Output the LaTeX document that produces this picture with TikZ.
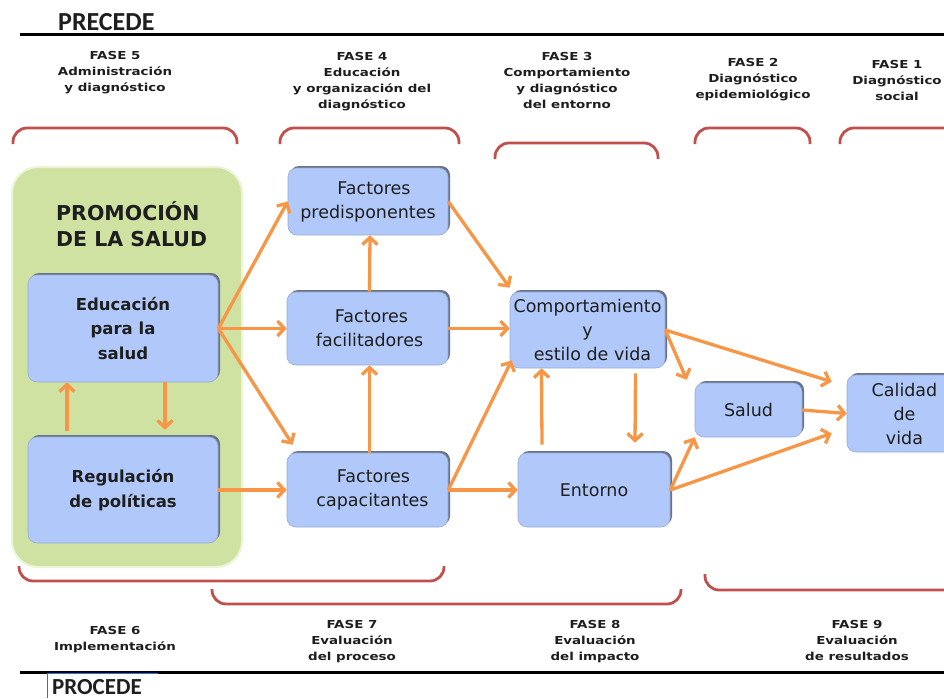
\documentclass[tikz,border=0pt]{standalone}
\usepackage{fontspec}
\setmainfont{DejaVu Sans}
\newfontfamily\titlefont{Carlito}
\newfontfamily\phasefont[FakeStretch=1.22]{DejaVu Sans}
\usetikzlibrary{arrows.meta,shadows,calc}
\definecolor{orangeA}{RGB}{247,150,70}
\definecolor{boxblue}{RGB}{177,201,250}
\definecolor{boxedge}{RGB}{105,115,135}
\definecolor{greenbg}{RGB}{207,226,162}
\definecolor{greenedge}{RGB}{236,244,216}
\definecolor{bracketred}{RGB}{192,80,77}
\definecolor{txt}{RGB}{30,30,30}
\definecolor{cursorblue}{RGB}{30,120,220}
\begin{document}
\begin{tikzpicture}[x=1pt,y=-1pt,
  box/.style={rectangle, rounded corners=9pt, fill=boxblue, draw=boxblue!85!black,
    line width=0.6pt, general shadow={fill=boxedge, shadow xshift=2pt, shadow yshift=2pt},
    inner sep=0pt, align=center, text=txt, font=\fontsize{17.5}{24}\selectfont},
  boldbox/.style={box, font=\bfseries\fontsize{16.5}{24.5}\selectfont},
  arr/.style={draw=orangeA, line width=3.3pt,
    -{Straight Barb[length=7pt,width=15pt]}},
  bracket/.style={draw=bracketred, line width=2.8pt, rounded corners=14pt},
  phase/.style={align=center, text=txt, inner sep=0pt,
    font=\phasefont\bfseries\fontsize{11}{16}\selectfont},
  title/.style={inner sep=0pt, text=txt, font=\titlefont\bfseries\fontsize{26}{26}\selectfont}
]
\useasboundingbox (0,0) rectangle (944,698);
\clip (0,0) rectangle (944,698);

% header / footer lines
\draw[line width=3pt] (20,35) -- (944,35);
\draw[line width=3pt] (20,672) -- (944,672);
\draw[cursorblue, line width=0.8pt] (47,673.5) -- (158,673.5);
\draw[cursorblue, line width=0.8pt] (47,673.5) -- (47,698);
\node[title, anchor=base west] (precede) at (58,31) {PRECEDE};
\node[title, anchor=base west, font=\titlefont\bfseries\fontsize{23}{23}\selectfont] (procede) at (52,694) {PROCEDE};

% phase labels top
\node[phase] (f5) at (115,72.5) {FASE 5\\Administración\\y diagnóstico};
\node[phase] (f4) at (362,82) {FASE 4\\Educación\\y organización del\\diagnóstico};
\node[phase] (f3) at (567,80.5) {FASE 3\\Comportamiento\\y diagnóstico\\del entorno};
\node[phase] (f2) at (753,80) {FASE 2\\Diagnóstico\\epidemiológico};
\node[phase] (f1) at (897,80) {FASE 1\\Diagnóstico\\social};

% phase labels bottom
\node[phase] (f6) at (115,640) {FASE 6\\Implementación};
\node[phase] (f7) at (352,642) {FASE 7\\Evaluación\\del proceso};
\node[phase] (f8) at (595,641.5) {FASE 8\\Evaluación\\del impacto};
\node[phase] (f9) at (857,640) {FASE 9\\Evaluación\\de resultados};

% top brackets
\draw[bracket] (13,144) -- (13,128) -- (237,128) -- (237,144);
\draw[bracket] (280,144) -- (280,128) -- (459,128) -- (459,144);
\draw[bracket] (495,159) -- (495,143) -- (658,143) -- (658,159);
\draw[bracket] (695,144) -- (695,128) -- (810,128) -- (810,144);
\draw[bracket] (840,144) -- (840,128) -- (960,128) -- (960,144);

% bottom brackets
\draw[bracket] (19,566) -- (19,581) -- (444,581) -- (444,566);
\draw[bracket] (212,589) -- (212,604) -- (681,604) -- (681,589);
\draw[bracket] (705,574) -- (705,590) -- (960,590) -- (960,574);

% green panel
\node[rectangle, rounded corners=26pt, fill=greenbg, draw=greenedge, line width=2pt,
  minimum width=230pt, minimum height=400pt, inner sep=0pt] (promo) at (127,367) {};
\node[anchor=west, align=left, inner sep=0pt, text=txt,
  font=\bfseries\fontsize{20.5}{26}\selectfont] (promotxt) at (56,224) {PROMOCIÓN\\DE LA SALUD};

% boxes
\node[boldbox, minimum width=190pt, minimum height=107pt] (edu) at (123,328.5) {Educación\\para la\\salud};
\node[boldbox, minimum width=190pt, minimum height=106pt] (reg) at (123,490) {Regulación\\de políticas};
\node[box, minimum width=160pt, minimum height=67pt] (fpre) at (368,201.5) {\hspace*{12pt}Factores\\predisponentes};
\node[box, minimum width=161pt, minimum height=73pt] (ffac) at (367.5,328.5) {\hspace*{8pt}Factores\\\hspace*{4pt}facilitadores};
\node[box, minimum width=161pt, minimum height=74pt] (fcap) at (367.5,490) {\hspace*{12pt}Factores\\\hspace*{10pt}capacitantes};
\node[box, minimum width=155pt, minimum height=76pt] (comp) at (587.5,330) {Comportamiento\\y\\\hspace*{10pt}estilo de vida};
\node[box, minimum width=152pt, minimum height=74pt] (ent) at (594,490) {Entorno};
\node[box, minimum width=107pt, minimum height=54pt] (salud) at (748.5,410) {Salud};
\node[box, minimum width=115pt, minimum height=77pt] (cal) at (904.5,413.5) {Calidad\\de\\vida};

% arrows
\draw[arr] (edu.east) -- (fpre.west);
\draw[arr] (edu.east) -- (ffac.west);
\draw[arr] (edu.east) -- ($(fcap.north west)+(6,-8)$);
\draw[arr] (reg.east) -- (fcap.west);
\draw[arr] ($(reg.north)+(-56,-6)$) -- ($(edu.south)+(-56,0)$);
\draw[arr] ($(edu.south)+(42,0)$) -- ($(reg.north)+(42,-7)$);
\draw[arr] ($(ffac.north)+(2,0)$) -- ($(fpre.south)+(2,0)$);
\draw[arr] ($(fcap.north)+(2,0)$) -- ($(ffac.south)+(2,0)$);
\draw[arr] (fpre.east) -- ($(comp.north west)+(0,-4)$);
\draw[arr] (ffac.east) -- (comp.west |- ffac.east);
\draw[arr] (fcap.east) -- ($(comp.south west)+(2,-8)$);
\draw[arr] (fcap.east) -- (ent.west);
\draw[arr] ($(ent.north)+(-52,-8)$) -- ($(comp.south)+(-46,0)$);
\draw[arr] ($(comp.south)+(48,5)$) -- ($(ent.north)+(41,-10)$);
\draw[arr] (comp.east) -- ($(salud.north west)+(-8,-3)$);
\draw[arr] (comp.east) -- ($(cal.north west)+(-15,7)$);
\draw[arr] (salud.east) -- (cal.west);
\draw[arr] (ent.east) -- (salud.south west);
\draw[arr] (ent.east) -- ($(cal.south west)+(-15,-19)$);
\end{tikzpicture}
\end{document}
